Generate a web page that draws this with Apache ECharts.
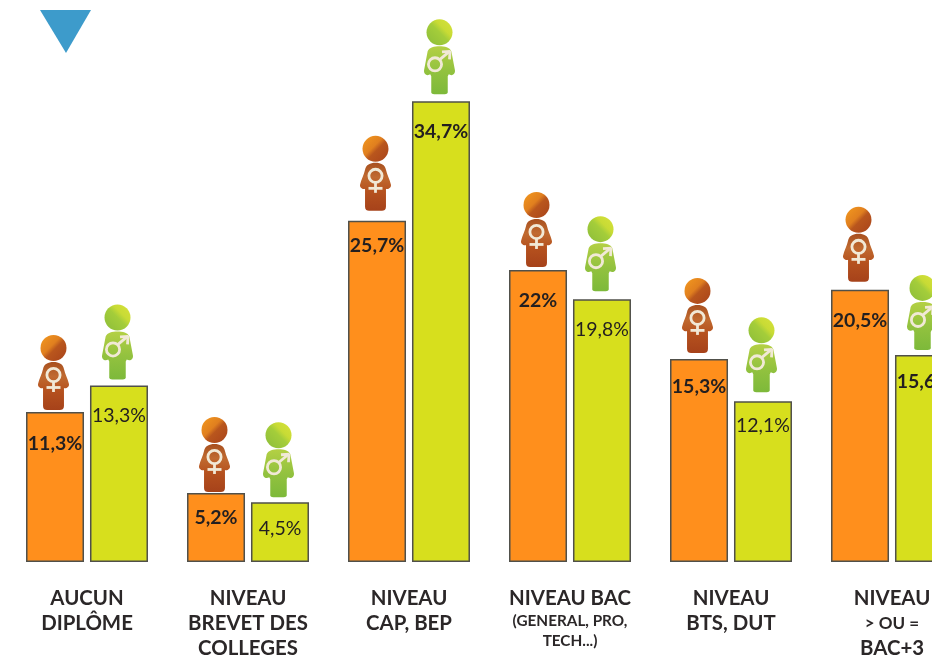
<!DOCTYPE html>
<html><head><meta charset="utf-8">
<style>html,body{margin:0;padding:0;background:#fff;overflow:hidden}#c{width:932px;height:657px}</style>
<script src="https://cdn.jsdelivr.net/npm/echarts@6/dist/echarts.min.js"></script>
</head><body><div id="c"></div>
<script>
const categories = ['AUCUN\nDIPLÔME','NIVEAU\nBREVET DES\nCOLLEGES','NIVEAU\nCAP, BEP','NIVEAU BAC\n(GENERAL, PRO,\nTECH...)','NIVEAU\nBTS, DUT','NIVEAU\n> OU =\nBAC+3'];
const smallLines = ['(GENERAL, PRO,','TECH...)'];
const tinyLines = ['> OU ='];
const femmes = [11.3, 5.2, 25.7, 22, 15.3, 20.5];
const hommes = [13.3, 4.5, 34.7, 19.8, 12.1, 15.6];
const femmesText = ['11,3%','5,2%','25,7%','22%','15,3%','20,5%'];
const hommesText = ['13,3%','4,5%','34,7%','19,8%','12,1%','15,6%'];
// label styling per bar
const femmesBold = [1,1,1,1,1,1];
const hommesBold = [0,0,1,0,0,1];
const femmesDrop = [34,27,27,33,30,33];
const hommesDrop = [32,28,32,33,26,29];
// icon lift above bar top (head centre)
const femmesLift = [64,63,72,65,68,70];
const hommesLift = [68,67,69,70,71,67];

const FONT = 'Lato';
const femaleBody = 'M15.5 0C21 0 25 2 26 7C27 12 30 17 31 22C31.5 25 28 27 26 26L26 44C26 47 24 48 22 48L9 48C7 48 5 47 5 44L5 26C3 27-.5 25 0 22C1 17 4 12 5 7C6 2 10 0 15.5 0Z';
const maleBody = 'M15 0C20 0 25 1 26.5 5L30 24C30.5 28 27 30 24 28L23 30L23 45C23.5 47 22 48 20 48L10 48C8 48 6.5 47 7 45L7 30L6 28C3 30-.5 28 0 24L3.5 5C5 1 10 0 15 0Z';
const grad = (x,y,x2,y2,stops) => ({type:'linear',x,y,x2,y2,colorStops:stops.map(s=>({offset:s[0],color:s[1]}))});
const SYM = '#f1e9d6';
function glyph(female){
  const st = {stroke:SYM,lineWidth:2.8,fill:null};
  if(female) return [
    {type:'circle',shape:{cx:0,cy:27,r:6.6},style:st},
    {type:'line',shape:{x1:0,y1:34,x2:0,y2:44},style:st},
    {type:'line',shape:{x1:-7,y1:39.5,x2:7,y2:39.5},style:st}
  ];
  return [
    {type:'circle',shape:{cx:-4.5,cy:32,r:6.6},style:st},
    {type:'line',shape:{x1:0.5,y1:27,x2:10,y2:19},style:st},
    {type:'line',shape:{x1:2.5,y1:19.5,x2:11,y2:19},style:st},
    {type:'line',shape:{x1:10.5,y1:18.5,x2:10,y2:27},style:st}
  ];
}
function person(female, dir, lifts){
  return function(params, api){
    const p = api.coord([api.value(0), api.value(1)]);
    const band = api.size([1,0])[0];
    const cx = p[0] + dir*band*32/161 - 1.5;
    const cy = p[1] - lifts[params.dataIndex];
    const head = female
      ? grad(0,0,1,1,[[0,'#f49a1e'],[.42,'#e07f1f'],[.55,'#b9561d'],[1,'#a8431b']])
      : grad(1,0,0,1,[[0,'#d8e23a'],[.35,'#c8db35'],[.5,'#a4cd3a'],[1,'#8cbd3a']]);
    const body = female
      ? grad(0,0,0,1,[[0,'#a8501f'],[.3,'#c06a30'],[.6,'#b5511e'],[1,'#a6421a']])
      : grad(0,0,0,1,[[0,'#b4d044'],[.5,'#93c23f'],[1,'#7db93a']]);
    return {type:'group',x:cx,y:cy,children:[
      {type:'circle',shape:{cx:0,cy:0,r:13},style:{fill:head}},
      {type:'path',shape:{pathData:female?femaleBody:maleBody,x:-15.5,y:14,width:31,height:48,layout:'cover'},style:{fill:body}},
      ...glyph(female)
    ]};
  };
}
function barData(vals, texts, bolds, drops){
  return vals.map((v,i)=>({value:v,label:{
    formatter:texts[i],
    fontWeight:bolds[i]?'bold':'normal',
    fontSize:bolds[i]?19.5:19.5,
    offset:[0,drops[i]-12]
  }}));
}
const labelBase = {show:true,position:'insideTop',distance:0,fontFamily:FONT,fontSize:19,color:'#231f20'};
const barItem = (c)=>({color:c,borderColor:'#50504a',borderWidth:1.5});
const chart = echarts.init(document.getElementById('c'),null,{renderer:'canvas'});
chart.setOption({
  animation:false,
  backgroundColor:'#fff',
  grid:{left:6.5,top:31,width:966,height:531,containLabel:false,outerBoundsMode:'none'},
  xAxis:{type:'category',data:categories,
    axisLine:{show:false},axisTick:{show:false},
    axisLabel:{interval:0,margin:24,hideOverlap:false,fontFamily:FONT,
      formatter:v=>v.split('\n').map(l=>smallLines.includes(l)?`{s|${l}}`:tinyLines.includes(l)?`{t|${l}}`:`{b|${l}}`).join('\n'),
      rich:{
        b:{fontFamily:FONT,fontSize:20.4,fontWeight:'bold',color:'#2b2728',lineHeight:25,align:'center'},
        s:{fontFamily:FONT,fontSize:15.3,fontWeight:'bold',color:'#2b2728',lineHeight:20,align:'center'},
        t:{fontFamily:FONT,fontSize:17,fontWeight:'bold',color:'#2b2728',lineHeight:25,align:'center'}
      }}},
  yAxis:{type:'value',min:0,max:40,show:false,splitLine:{show:false}},
  series:[
    {name:'Femmes',type:'bar',barWidth:58,barGap:'10.3%',data:barData(femmes,femmesText,femmesBold,femmesDrop),itemStyle:barItem('#ff8f1c'),label:labelBase},
    {name:'Hommes',type:'bar',barWidth:58,data:barData(hommes,hommesText,hommesBold,hommesDrop),itemStyle:barItem('#d7df1d'),label:labelBase},
    {name:'IconF',type:'custom',clip:false,z:5,data:femmes.map((v,i)=>[i,v]),encode:{x:0,y:1},renderItem:person(true,-1,femmesLift)},
    {name:'IconH',type:'custom',clip:false,z:5,data:hommes.map((v,i)=>[i,v]),encode:{x:0,y:1},renderItem:person(false,1,hommesLift)}
  ],
  graphic:[{type:'polygon',shape:{points:[[40,10],[91,10],[66,53]]},style:{fill:'#3d9bcb'}}]
});
</script></body></html>
